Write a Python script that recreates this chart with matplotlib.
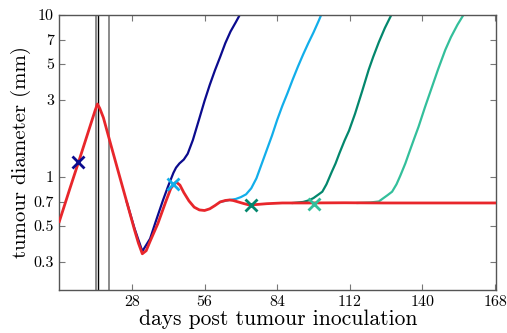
import matplotlib
matplotlib.use("Agg")
import matplotlib.pyplot as plt
from matplotlib.ticker import FixedLocator, FixedFormatter, NullLocator

plt.rcParams["font.family"] = ["cmr10", "DejaVu Serif"]
plt.rcParams["axes.formatter.use_mathtext"] = True

# treated tumour, stable response
red_days = [0, 4, 8, 12, 13.8, 14.7, 15.6, 17, 20, 23, 26, 29, 30.5, 32, 33.5, 35,
            38, 41, 43, 45, 46.5, 48, 50, 52, 54, 56, 58, 60, 62, 64, 65.6, 67, 69,
            71, 73, 76, 80, 86, 95, 110, 125, 140, 155, 168.5]
red_vals = [0.53, 0.84, 1.32, 2.09, 2.57, 2.82, 2.65, 2.32, 1.55, 1.04, 0.70, 0.47,
            0.39, 0.335, 0.35, 0.40, 0.515, 0.70, 0.85, 0.93, 0.89, 0.80, 0.71, 0.65,
            0.625, 0.62, 0.635, 0.665, 0.70, 0.715, 0.72, 0.715, 0.70, 0.685, 0.672,
            0.675, 0.683, 0.69, 0.69, 0.692, 0.69, 0.69, 0.69, 0.69]

# escape trajectories
navy_days = [26, 29, 32, 35, 37, 40, 42, 44, 45, 46.3, 48, 49.5, 51.5, 54, 56, 58,
             60, 62, 64, 66, 68, 70]
navy_vals = [0.70, 0.48, 0.347, 0.415, 0.52, 0.72, 0.88, 1.06, 1.14, 1.21, 1.28,
             1.39, 1.69, 2.3, 2.95, 3.7, 4.55, 5.5, 6.7, 7.9, 9.0, 10.3]

sky_days = [62, 65.6, 68, 70, 72, 74, 76, 78, 80, 82, 84, 86, 88, 90, 92, 94, 96,
            98, 100, 101.5]
sky_vals = [0.70, 0.72, 0.73, 0.75, 0.78, 0.85, 0.98, 1.2, 1.47, 1.8, 2.25, 2.75,
            3.3, 4.0, 4.8, 5.7, 6.7, 7.8, 9.2, 10.5]

teal_days = [90, 94, 96.3, 98, 100, 101.4, 103, 105, 106.5, 108, 110, 111.7, 114,
             116.8, 119.3, 121, 123.2, 125.5, 128, 129]
teal_vals = [0.69, 0.70, 0.717, 0.74, 0.78, 0.81, 0.9, 1.07, 1.21, 1.4, 1.68, 1.93,
             2.45, 3.4, 4.6, 5.5, 6.8, 8.3, 10.0, 10.6]

aqua_days = [115, 120, 123.2, 125, 126.5, 128.3, 130, 131.5, 133.4, 135, 136.8,
             138.5, 141, 143.7, 146, 148.8, 151, 153.5, 155.8, 157]
aqua_vals = [0.69, 0.695, 0.705, 0.74, 0.77, 0.81, 0.9, 1.02, 1.21, 1.43, 1.72,
             2.04, 2.7, 3.6, 4.6, 6.08, 7.3, 8.7, 10.0, 10.6]

# cross markers
mark_days = [7.2, 43.8, 73.9, 98.2]
mark_vals = [1.23, 0.90, 0.668, 0.684]

treat_days = [14, 19]
peak_day = 14.8

x_ticks = [28, 56, 84, 112, 140, 168]
y_ticks = [0.3, 0.5, 0.7, 1, 3, 5, 7, 10]
y_tick_labels = ["0.3", "0.5", "0.7", "1", "3", "5", "7", "10"]

c_red = "#e8262b"
c_navy = "#0b0b8e"
c_sky = "#12aeea"
c_teal = "#03876d"
c_aqua = "#33bf9b"

fig = plt.figure(figsize=(5.07, 3.33), dpi=100)
ax = fig.add_axes([0.117, 0.129, 0.862, 0.826])

for d in treat_days:
    ax.axvline(d, color="#777777", lw=1.2, zorder=1)
ax.axvline(peak_day, color="black", lw=1.0, zorder=1)

ax.plot(navy_days, navy_vals, color=c_navy, lw=1.6, zorder=2)
ax.plot(sky_days, sky_vals, color=c_sky, lw=1.6, zorder=2)
ax.plot(teal_days, teal_vals, color=c_teal, lw=1.6, zorder=2)
ax.plot(aqua_days, aqua_vals, color=c_aqua, lw=1.6, zorder=2)
ax.plot(red_days, red_vals, color=c_red, lw=2.0, zorder=3)

for d, v, c in zip(mark_days, mark_vals, [c_navy, c_sky, c_teal, c_aqua]):
    ax.plot([d], [v], marker="x", ms=8, mew=2, color=c, zorder=4, ls="none")

ax.set_yscale("log")
ax.set_xlim(0, 168.5)
ax.set_ylim(0.2, 10)

ax.xaxis.set_major_locator(FixedLocator(x_ticks))
ax.xaxis.set_major_formatter(FixedFormatter([str(t) for t in x_ticks]))
ax.xaxis.set_minor_locator(NullLocator())
ax.yaxis.set_major_locator(FixedLocator(y_ticks))
ax.yaxis.set_major_formatter(FixedFormatter(y_tick_labels))
ax.yaxis.set_minor_locator(NullLocator())

ax.tick_params(direction="in", length=4, width=0.8, color="#777777",
               top=True, right=True, labelsize=11.5, pad=4)
for s in ax.spines.values():
    s.set_color("#555555")
    s.set_linewidth(1.0)

ax.set_xlabel("days post tumour inoculation", fontsize=15.5, labelpad=0)
ax.set_ylabel("tumour diameter (mm)", fontsize=15, labelpad=2)

fig.savefig("out.png", dpi=100)
